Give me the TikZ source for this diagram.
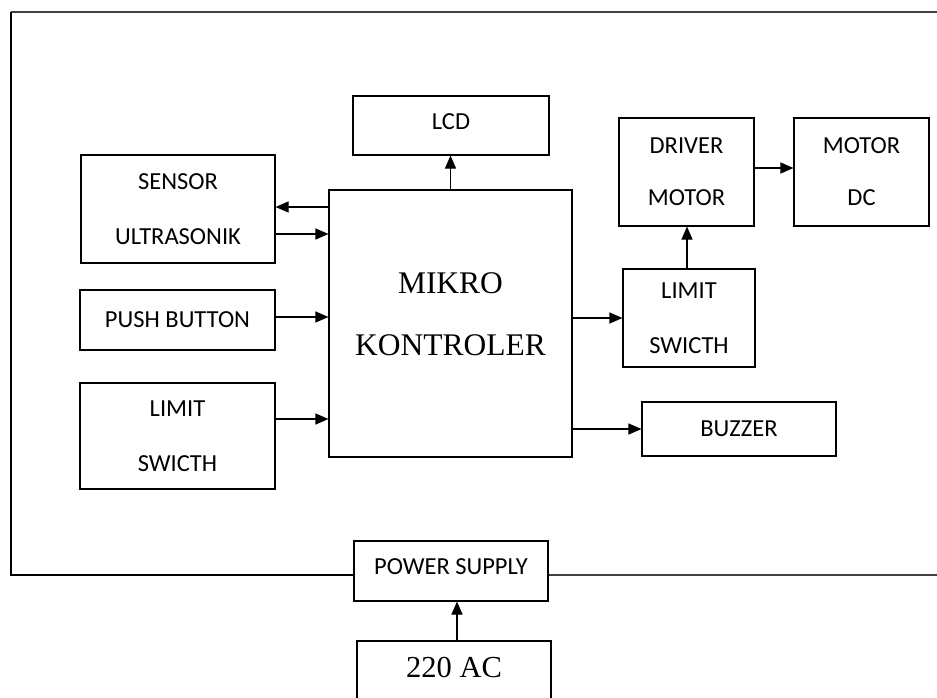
\documentclass[tikz,border=0pt]{standalone}
\usepackage{fontspec}
\newfontfamily\boxfont{Carlito}
\newfontfamily\serfont{Liberation Serif}
\usetikzlibrary{arrows.meta}

\begin{document}
\begin{tikzpicture}[x=1pt,y=-1pt,
  blok/.style={draw,line width=1.1pt,inner sep=0pt,align=center,
    font=\boxfont\fontsize{24.5}{55}\selectfont},
  arr/.style={-{Triangle[length=13pt,width=11pt]},line width=1.1pt}]
  \useasboundingbox (0,0) rectangle (937,697);
  \clip (0,0) rectangle (937,697);
  % blocks
  \node[blok,minimum width=196,minimum height=59,text depth=7pt] (lcd) at (451,125.5) {LCD};
  \node[blok,minimum width=243,minimum height=267] (mk) at (450.5,323.5) {};
  \node[font=\serfont\fontsize{31.5}{62}\selectfont,align=center] (mktxt) at ([yshift=9.5pt]mk.center) {MIKRO\\KONTROLER};
  \node[blok,minimum width=194,minimum height=108] (sens) at (178,209) {SENSOR\\ULTRASONIK};
  \node[blok,minimum width=195,minimum height=60] (push) at (177.5,320) {PUSH BUTTON};
  \node[blok,minimum width=195,minimum height=106] (lim1) at (177.5,436) {LIMIT\\SWICTH};
  \node[blok,minimum width=135,minimum height=108,font=\boxfont\fontsize{24.5}{52}\selectfont] (drv) at (686.5,172) {DRIVER\\MOTOR};
  \node[blok,minimum width=135,minimum height=108,font=\boxfont\fontsize{24.5}{52}\selectfont] (mdc) at (861.5,172) {MOTOR\\DC};
  \node[blok,minimum width=132,minimum height=98] (lim2) at (689,318) {LIMIT\\SWICTH};
  \node[blok,minimum width=194,minimum height=54] (buz) at (739,429) {BUZZER};
  \node[blok,minimum width=194,minimum height=60,text depth=8pt] (psu) at (451,571) {POWER SUPPLY};
  \node[blok,minimum width=194,minimum height=64,text depth=12pt,
    font=\serfont\fontsize{30.5}{36}\selectfont] (ac) at (454,673) {220 AC};
  % frame
  \coordinate (fl) at (11,575);
  \draw[line width=1.1pt,black!75] (11,12) -- (937,12);
  \draw[line width=1.1pt] (11,12) -- (fl) -- (fl -| psu.west);
  \draw[line width=1.1pt,black!75] (psu.east |- fl) -- (937,575);
  \draw[line width=2.6pt] (11,233) -- (11,268);
  % arrows
  \coordinate (s1) at ([yshift=2pt]sens.east);
  \draw[arr] (s1 -| mk.west) -- (s1);
  \foreach \n/\dy in {sens/-25,push/3,lim1/17}{
    \coordinate (tip) at ([yshift=\dy pt]\n.east);
    \draw[arr] (tip) -- (tip -| mk.west);
  }
  \draw[arr] (mk.north) -- (mk.north |- lcd.south);
  \draw[arr] (mk.east |- lim2.west) -- (lim2.west);
  \draw[arr] (mk.east |- buz.west) -- (buz.west);
  \draw[arr] ([yshift=4pt]drv.east) -- ([yshift=4pt]mdc.west);
  \draw[arr] ([xshift=-2pt]lim2.north) -- ([xshift=-2pt]lim2.north |- drv.south);
  \draw[arr] ([xshift=3pt]ac.north) -- ([xshift=3pt]ac.north |- psu.south);
\end{tikzpicture}
\end{document}
